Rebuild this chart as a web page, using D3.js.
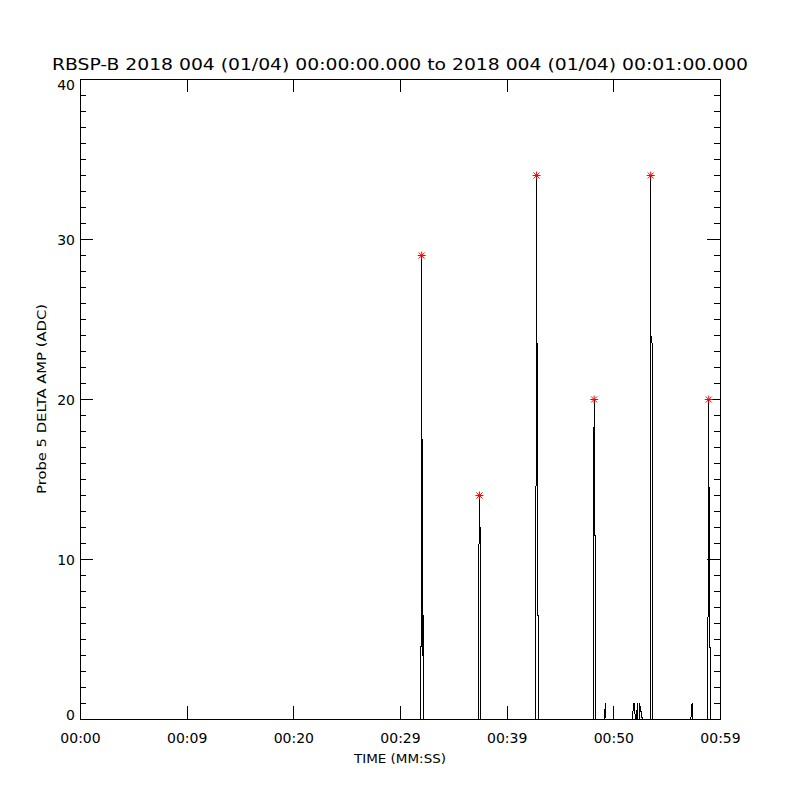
<!DOCTYPE html>
<html>
<head>
<meta charset="utf-8">
<script src="https://cdn.jsdelivr.net/npm/d3@7"></script>
<style>
  body { margin: 0; background: #fff; }
  text { font-family: "DejaVu Sans", sans-serif; fill: #000; }
</style>
</head>
<body>
<div id="chart"></div>
<script>
// probe trace, seconds from 00:00:00 and ADC values
var times = [0,
  31.90, 31.92, 31.99, 32.00, 32.08, 32.09, 32.16, 32.18,
  37.29, 37.31, 37.40, 37.41, 37.49, 37.50,
  42.66, 42.68, 42.76, 42.77, 42.85, 42.86, 42.92, 42.93,
  48.05, 48.07, 48.15, 48.16, 48.24, 48.25, 48.29, 48.31,
  49.12, 49.15, 49.22, 49.27,
  51.76, 51.79, 51.87, 51.96, 52.00, 52.13, 52.16, 52.22, 52.26, 52.40, 52.43, 52.50, 52.62, 52.65,
  53.42, 53.44, 53.46, 53.48, 53.63, 53.64,
  57.23, 57.25, 57.34, 57.40, 57.42,
  58.79, 58.81, 58.90, 58.91, 58.99, 59.00, 59.06, 59.09,
  60];
var values = [0,
  0, 3, 29, 17.5, 17.5, 4, 6.5, 0,
  0, 6.9, 14, 12, 12, 0,
  0, 5.5, 34, 23.5, 23.5, 6.5, 6.5, 0,
  0, 1.5, 20, 11.5, 11.5, 2.8, 5.5, 0,
  0, 0.5, 1, 0,
  0, 0.5, 1, 1, 0, 0, 0.5, 1, 0, 0, 1, 0.5, 0.5, 0,
  0, 24.5, 34, 24, 23.3, 0,
  0, 0.5, 1, 1, 0,
  0, 2.5, 20, 14.5, 14.5, 4.5, 4.5, 0,
  0];

// red asterisks on the peaks
var peakTimes = [31.99, 37.40, 42.76, 48.15, 53.46, 58.90];
var peakValues = [29, 14, 34, 20, 34, 20];

var xTickValues = [0, 10, 20, 30, 40, 50, 60];
var xTickLabels = ["00:00", "00:09", "00:20", "00:29", "00:39", "00:50", "00:59"];
var yTickValues = [0, 10, 20, 30, 40];

var titleText = "RBSP-B 2018 004 (01/04) 00:00:00.000 to 2018 004 (01/04) 00:01:00.000";

var width = 800, height = 800;
var plotLeft = 80, plotRight = 720, plotTop = 79, plotBottom = 719;

var svg = d3.select("#chart")
    .append("svg")
    .attr("width", width)
    .attr("height", height);

var x = d3.scaleLinear().domain([0, 60]).range([plotLeft, plotRight]);
var y = d3.scaleLinear().domain([0, 40]).range([plotBottom, plotTop]);

// trace
var line = d3.line()
    .x(function(d, i) { return x(times[i]) + 0.5; })
    .y(function(d) { return y(d) + 0.5; });

svg.append("path")
    .datum(values)
    .attr("d", line)
    .attr("fill", "none")
    .attr("stroke", "#000")
    .attr("stroke-width", 1)
    .style("shape-rendering", "crispEdges");

// axes, ticks pointing inward
function styleAxis(g) {
    g.select(".domain").remove();
    g.selectAll("line").attr("stroke", "#000").style("shape-rendering", "crispEdges");
    g.selectAll("text").style("font-family", "DejaVu Sans, sans-serif").attr("fill", "#000");
}

svg.append("g")
    .attr("transform", "translate(" + plotLeft + ",0)")
    .call(d3.axisLeft(y).ticks(40).tickSize(-6).tickFormat(""))
    .call(styleAxis);
var yAxis = svg.append("g")
    .attr("transform", "translate(" + plotLeft + ",0)")
    .call(d3.axisLeft(y).tickValues(yTickValues).tickSize(-13).tickSizeOuter(0).tickPadding(5))
    .call(styleAxis);
yAxis.selectAll("text")
    .style("font-size", "14px")
    .attr("dy", function(d) { return d === 40 ? "0.75em" : (d === 0 ? "0" : "0.36em"); });

svg.append("g")
    .attr("transform", "translate(" + plotRight + ",0)")
    .call(d3.axisRight(y).ticks(40).tickSize(-6).tickFormat(""))
    .call(styleAxis);
svg.append("g")
    .attr("transform", "translate(" + plotRight + ",0)")
    .call(d3.axisRight(y).tickValues(yTickValues).tickSize(-13).tickFormat(""))
    .call(styleAxis);

svg.append("g")
    .attr("transform", "translate(0," + plotBottom + ")")
    .call(d3.axisBottom(x).tickValues(xTickValues).tickSize(-13).tickPadding(14)
        .tickFormat(function(d, i) { return xTickLabels[i]; }))
    .call(styleAxis)
    .selectAll("text").style("font-size", "14px");

svg.append("g")
    .attr("transform", "translate(0," + plotTop + ")")
    .call(d3.axisTop(x).tickValues(xTickValues).tickSize(-13).tickFormat(""))
    .call(styleAxis);

// frame
svg.append("rect")
    .attr("x", plotLeft + 0.5)
    .attr("y", plotTop + 0.5)
    .attr("width", plotRight - plotLeft)
    .attr("height", plotBottom - plotTop)
    .attr("fill", "none")
    .attr("stroke", "#000")
    .style("shape-rendering", "crispEdges");

// asterisks
svg.selectAll(".star")
    .data(peakValues)
    .enter().append("path")
    .attr("class", "star")
    .attr("transform", function(d, i) {
        return "translate(" + (x(peakTimes[i]) + 0.5) + "," + (y(d) + 0.5) + ")";
    })
    .attr("d", "M-4,0H4M0,-4V4M-3,-3L3,3M-3,3L3,-3")
    .attr("fill", "none")
    .attr("stroke", "#ff0000")
    .attr("stroke-width", 1);

// titles
svg.append("text")
    .attr("x", 400)
    .attr("y", 70)
    .attr("text-anchor", "middle")
    .attr("textLength", 696)
    .attr("lengthAdjust", "spacingAndGlyphs")
    .style("font-size", "16px")
    .text(titleText);

svg.append("text")
    .attr("x", 400)
    .attr("y", 763)
    .attr("text-anchor", "middle")
    .attr("textLength", 92)
    .attr("lengthAdjust", "spacingAndGlyphs")
    .style("font-size", "12px")
    .text("TIME (MM:SS)");

svg.append("text")
    .attr("transform", "translate(46,399) rotate(-90)")
    .attr("text-anchor", "middle")
    .attr("textLength", 190)
    .attr("lengthAdjust", "spacingAndGlyphs")
    .style("font-size", "13px")
    .text("Probe 5 DELTA AMP (ADC)");
</script>
</body>
</html>
